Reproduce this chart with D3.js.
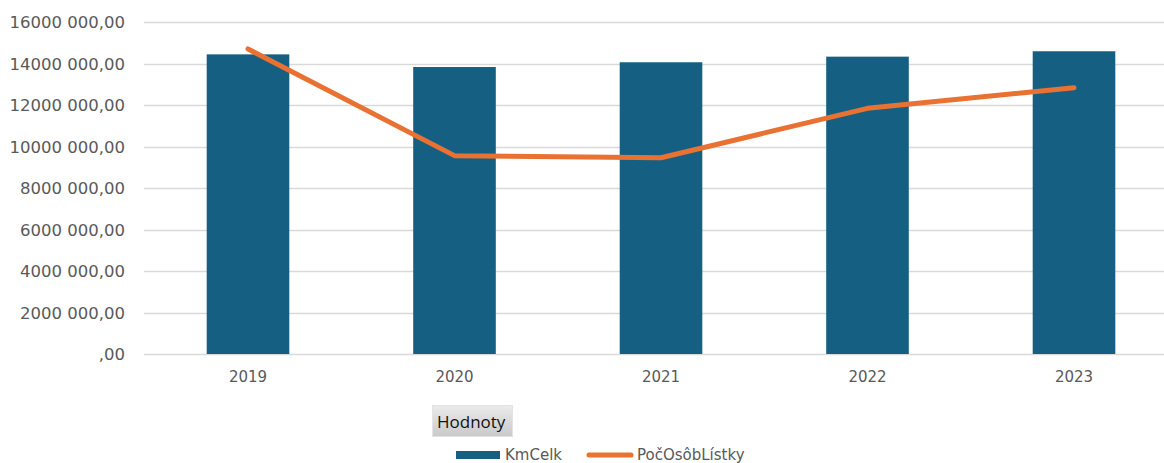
<!DOCTYPE html>
<html><head><meta charset="utf-8">
<script src="https://cdn.jsdelivr.net/npm/d3@7"></script>
<style>
html,body{margin:0;padding:0;background:#fff;overflow:hidden}
svg{display:block;font-family:"DejaVu Sans",sans-serif}
</style></head>
<body>
<svg id="c" width="1164" height="463"></svg>
<script>
const years = ["2019","2020","2021","2022","2023"];
const kmCelk = [14440000, 13830000, 14060000, 14330000, 14590000];
const pocOsobListky = [14700000, 9560000, 9460000, 11840000, 12830000];
const yTicks = [0,2000000,4000000,6000000,8000000,10000000,12000000,14000000,16000000];
const yTickLabels = [",00","2000 000,00","4000 000,00","6000 000,00","8000 000,00","10000 000,00","12000 000,00","14000 000,00","16000 000,00"];
const seriesNames = ["KmCelk","PočOsôbLístky"];
const fieldButton = "Hodnoty";

const svg = d3.select("#c");
const x = d3.scaleBand().domain(years).range([144.75, 1177.25]).paddingInner(0.6).paddingOuter(0.3);
const y = d3.scaleLinear().domain([0,16000000]).range([354,22]);

// gridlines
svg.append("g").selectAll("line").data(yTicks).join("line")
  .attr("x1",144).attr("x2",1164)
  .attr("y1",d=>Math.round(y(d))+0.5).attr("y2",d=>Math.round(y(d))+0.5)
  .attr("stroke","#d9d9d9").attr("stroke-width",1.5);

// y axis labels
const yAxis = d3.axisLeft(y).tickValues(yTicks).tickSize(0).tickPadding(0)
  .tickFormat((d,i)=>yTickLabels[i]);
const ya = svg.append("g").attr("transform","translate(125,0)").call(yAxis);
ya.select(".domain").remove();
ya.selectAll("text").attr("fill","#595959").style("font-size","16.5px")
  .style("font-family","'DejaVu Sans',sans-serif").attr("dy","0.35em");

// x axis labels
const xAxis = d3.axisBottom(x).tickSize(0).tickPadding(0);
const xa = svg.append("g").attr("transform","translate(0,371)").call(xAxis);
xa.select(".domain").remove();
xa.selectAll("text").attr("fill","#595959").style("font-size","15px")
  .style("font-family","'DejaVu Sans',sans-serif").attr("dy","0.72em");

// bars
svg.append("g").selectAll("rect").data(years).join("rect")
  .attr("x",d=>x(d)).attr("width",x.bandwidth())
  .attr("y",(d,i)=>y(kmCelk[i])).attr("height",(d,i)=>y(0)-y(kmCelk[i]))
  .attr("fill","#156082");

// line
const line = d3.line().x((d,i)=>x(years[i])+x.bandwidth()/2).y(d=>y(d));
svg.append("path").datum(pocOsobListky).attr("d",line)
  .attr("fill","none").attr("stroke","#e97132").attr("stroke-width",5)
  .attr("stroke-linecap","round").attr("stroke-linejoin","round");

// field button
const defs = svg.append("defs");
const g = defs.append("linearGradient").attr("id","btn").attr("x1",0).attr("y1",0).attr("x2",0).attr("y2",1);
g.append("stop").attr("offset","0%").attr("stop-color","#ebebeb");
g.append("stop").attr("offset","100%").attr("stop-color","#c9c9c9");
svg.append("rect").attr("x",432.5).attr("y",405.5).attr("width",80).attr("height",31)
  .attr("fill","url(#btn)").attr("stroke","#e3e3e3");
svg.append("text").attr("x",437).attr("y",428).text(fieldButton)
  .attr("fill","#111").style("font-size","17px").style("font-family","'Open Sans',sans-serif");

// legend
const lg = svg.append("g");
lg.append("rect").attr("x",456).attr("y",451).attr("width",44).attr("height",8).attr("fill","#156082");
lg.append("text").attr("x",505).attr("y",459.5).text(seriesNames[0]).attr("fill","#595959").style("font-size","15px");
lg.append("line").attr("x1",589).attr("x2",631).attr("y1",455).attr("y2",455)
  .attr("stroke","#e97132").attr("stroke-width",5).attr("stroke-linecap","round");
lg.append("text").attr("x",637).attr("y",459.5).text(seriesNames[1]).attr("fill","#595959").style("font-size","15px");
</script>
</body></html>
